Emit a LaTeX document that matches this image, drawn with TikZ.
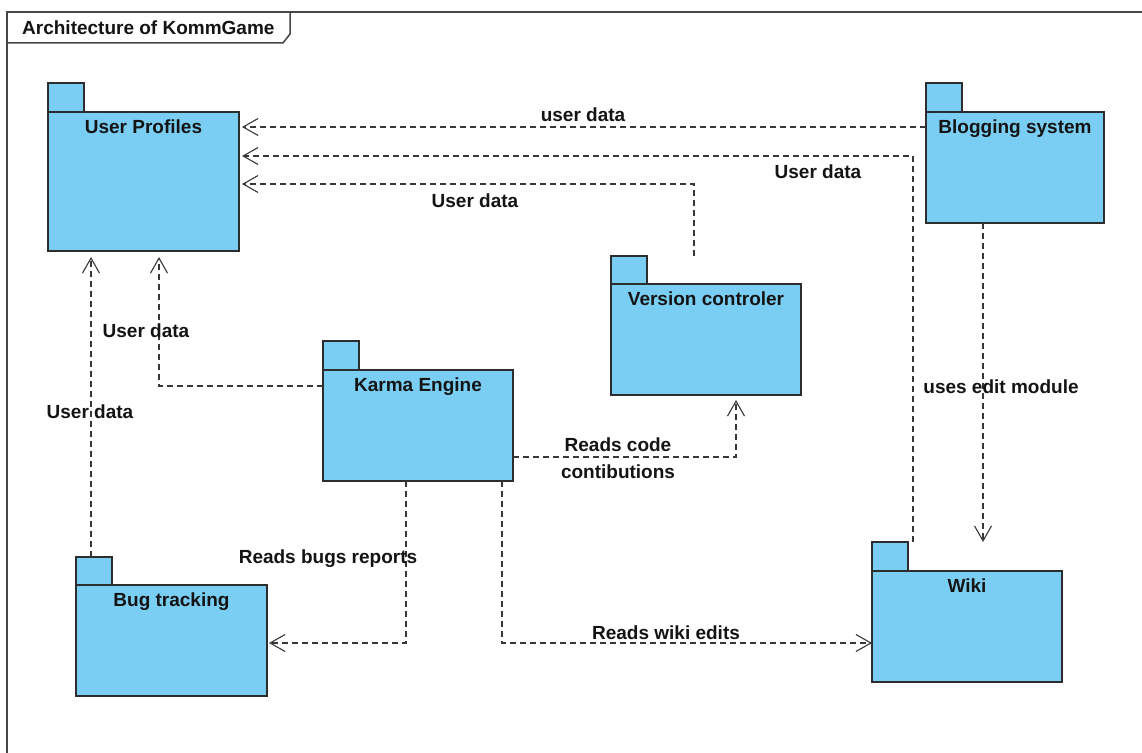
\documentclass[tikz,border=0pt]{standalone}
\usepackage{fontspec}
\setmainfont{Liberation Sans}
\usetikzlibrary{arrows.meta}

\definecolor{pkgfill}{RGB}{122,206,244}
\definecolor{pkgline}{RGB}{45,45,45}
\definecolor{depline}{RGB}{55,55,55}
\definecolor{framecol}{RGB}{70,70,70}

\tikzset{
  txt/.style={font=\bfseries\fontsize{19}{22}\selectfont, text=black!92, inner sep=0pt, anchor=base},
  pkgarea/.style={rectangle, draw=none, inner sep=0pt, outer sep=0pt},
  pkgbody/.style={rectangle, draw=pkgline, fill=pkgfill, line width=1.2pt, inner sep=0pt, outer sep=0pt},
  pkgtab/.style={pkgbody, minimum width=36pt, minimum height=29pt},
  dep/.style={draw=depline, line width=1.1pt, dash pattern=on 6pt off 4pt,
    -{Straight Barb[length=15pt, width=17pt, line width=1.1pt]}},
  frameline/.style={draw=framecol, line width=1.5pt},
}

% package: name, x, y (top of tab), width, full height (tab + body), body height, title
\newcommand{\umlpkg}[7]{%
  \node[pkgarea, minimum width=#4pt, minimum height=#5pt, anchor=north west] (#1) at (#2,#3) {};
  \node[pkgtab, anchor=north west] (#1-t) at (#1.north west) {};
  \node[pkgbody, minimum width=#4pt, minimum height=#6pt, anchor=south west] (#1-b) at (#1.south west) {};
  \node[txt] (#1-n) at ([yshift=-21.5pt]#1-b.north) {#7};
}

\begin{document}
\begin{tikzpicture}[x=1pt, y=-1pt]
\useasboundingbox (0,0) rectangle (1142,752);

% diagram frame and its name tag
\draw[frameline] (7,760) -- (7,12) -- (1150,12);
\draw[frameline] (7,43) -- (283,43) -- (290,34) -- (290,12);
\node[txt, anchor=base west] (frametitle) at (22,35) {Architecture of KommGame};

% packages
\umlpkg{up}{48}{83}{191}{168}{139}{User Profiles}
\umlpkg{blog}{926}{83}{178}{140}{111}{Blogging system}
\umlpkg{vc}{611}{256}{190}{139}{111}{Version controler}
\umlpkg{karma}{323}{341}{190}{140}{111}{Karma Engine}
\umlpkg{bug}{76}{557}{191}{139}{111}{Bug tracking}
\umlpkg{wiki}{872}{542}{190}{140}{111}{Wiki}

% dependencies
\draw[dep, shorten >=3pt] (blog.west |- 0,127) -- (up.east |- 0,127);
\draw[dep, shorten >=3pt] (wiki.north -| 913,0) |- (up.east |- 0,156);
\draw[dep, shorten >=3pt] (vc.north -| 694,0) |- (up.east |- 0,184);
\draw[dep, shorten >=6pt] (karma.west |- 0,386) -| (up.south -| 159,0);
\draw[dep, shorten >=6pt] (bug.north -| 91,0) -- (up.south -| 91,0);
\draw[dep, shorten >=5pt] (karma.east |- 0,457) -| (vc.south -| 736,0);
\draw[dep, shorten >=2pt] (karma.south -| 406,0) |- (bug.east |- 0,643);
\draw[dep] (karma.south -| 502,0) |- (wiki.west |- 0,643);
\draw[dep] (blog.south -| 983,0) -- (wiki.north -| 983,0);

% dependency labels
\node[txt] (l1) at (583,121) {user data};
\node[txt] (l2) at (818,178) {User data};
\node[txt] (l3) at (475,207) {User data};
\node[txt] (l4) at (146,337) {User data};
\node[txt] (l5) at (90,418) {User data};
\node[txt] (l6a) at (618,451) {Reads code};
\node[txt] (l6b) at (618,478) {contibutions};
\node[txt] (l7) at (328,563) {Reads bugs reports};
\node[txt] (l8) at (666,639) {Reads wiki edits};
\node[txt] (l9) at (1001,393) {uses edit module};
\end{tikzpicture}
\end{document}
